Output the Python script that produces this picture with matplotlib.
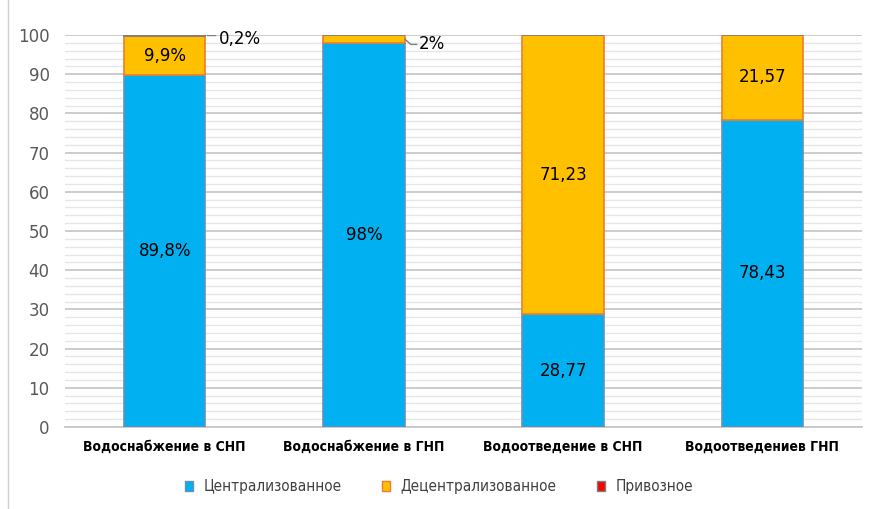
import matplotlib.pyplot as plt
import numpy as np
from matplotlib.patches import Patch
from matplotlib.ticker import MultipleLocator
from matplotlib import font_manager

categories = ["Водоснабжение в СНП", "Водоснабжение в ГНП", "Водоотведение в СНП", "Водоотведениев ГНП"]
series_names = ["Централизованное", "Децентрализованное", "Привозное"]
central = [89.8, 98, 28.77, 78.43]
decentral = [9.9, 2, 71.23, 21.57]
delivered = [0.2, 0, 0, 0]
central_labels = ["89,8%", "98%", "28,77", "78,43"]
decentral_labels = ["9,9%", "2%", "71,23", "21,57"]
delivered_labels = ["0,2%", "", "", ""]

BLUE = "#00B0F0"
YELLOW = "#FFC000"
RED = "#FF0000"

plt.rcParams["font.family"] = ["DejaVu Sans"]

# narrow font for category and legend text, if there is one
names = {f.name for f in font_manager.fontManager.ttflist}
narrow = "Liberation Sans Narrow" if "Liberation Sans Narrow" in names else "DejaVu Sans"

fig = plt.figure(figsize=(8.72, 5.09), dpi=100)
ax = fig.add_axes([65 / 872, 1 - 427 / 509, 797 / 872, 392 / 509])

x = np.arange(len(categories))
w = 0.41
c = np.array(central)
d = np.array(decentral)
ax.bar(x, c, w, color=BLUE, edgecolor="#6A8FB8", linewidth=1.2, zorder=3)
ax.bar(x, d, w, bottom=c, color=YELLOW, edgecolor="#ED7D31", linewidth=1.2, zorder=3)
ax.bar(x, delivered, w, bottom=c + d, color=RED, edgecolor="#7F7F7F", linewidth=1.2, zorder=3)

ax.set_xlim(-0.5, 3.5)
ax.set_ylim(0, 100)
ax.yaxis.set_major_locator(MultipleLocator(10))
ax.yaxis.set_minor_locator(MultipleLocator(2))
ax.grid(axis="y", which="major", color="#C8C8C8", linewidth=1.3, zorder=0)
ax.grid(axis="y", which="minor", color="#E6E6E6", linewidth=1.0, zorder=0)
for s in ["top", "right", "left"]:
    ax.spines[s].set_visible(False)
ax.spines["bottom"].set_color("#C8C8C8")
ax.spines["bottom"].set_linewidth(1.3)
ax.tick_params(axis="y", which="both", length=0, labelsize=12, labelcolor="#595959", pad=11)
ax.tick_params(axis="x", length=0, pad=9)
ax.set_xticks(x)
ax.set_xticklabels(categories, fontsize=10, fontweight="bold", family=narrow, fontstretch="condensed")

# labels inside
for i in range(len(categories)):
    if central_labels[i]:
        ax.text(x[i], c[i] / 2, central_labels[i], ha="center", va="center", fontsize=12, zorder=5)
    if decentral_labels[i] and d[i] > 5:
        ax.text(x[i], c[i] + d[i] / 2, decentral_labels[i], ha="center", va="center", fontsize=12, zorder=5)

# outside labels with leader lines
ax.plot([x[0] + w / 2 + 0.01, x[0] + w / 2 + 0.05], [99.9, 99.9], color="#7F7F7F", lw=1, zorder=4)
ax.text(x[0] + w / 2 + 0.065, 99.0, delivered_labels[0], ha="left", va="center", fontsize=12, zorder=5)
ax.plot([x[1] + w / 2 + 0.0, x[1] + w / 2 + 0.03, x[1] + w / 2 + 0.06],
        [99.0, 97.6, 97.6], color="#7F7F7F", lw=1, zorder=4)
ax.text(x[1] + w / 2 + 0.07, 97.6, decentral_labels[1], ha="left", va="center", fontsize=12, zorder=5)

handles = [Patch(facecolor=BLUE, edgecolor="#6A8FB8"),
           Patch(facecolor=YELLOW, edgecolor="#ED7D31"),
           Patch(facecolor=RED, edgecolor="#7F7F7F")]
leg = fig.legend(handles, series_names, loc="center", bbox_to_anchor=(439 / 872, 1 - 487 / 509),
                 ncol=3, frameon=False, handlelength=0.55, handleheight=0.55,
                 columnspacing=2.6, handletextpad=0.7,
                 prop={"family": narrow, "size": 11, "stretch": "condensed"})
for t in leg.get_texts():
    t.set_color("#404040")

fig.add_artist(plt.Line2D([8 / 872, 8 / 872], [0, 1], color="#D0D0D0", lw=1))

fig.savefig("out.png", dpi=100)
